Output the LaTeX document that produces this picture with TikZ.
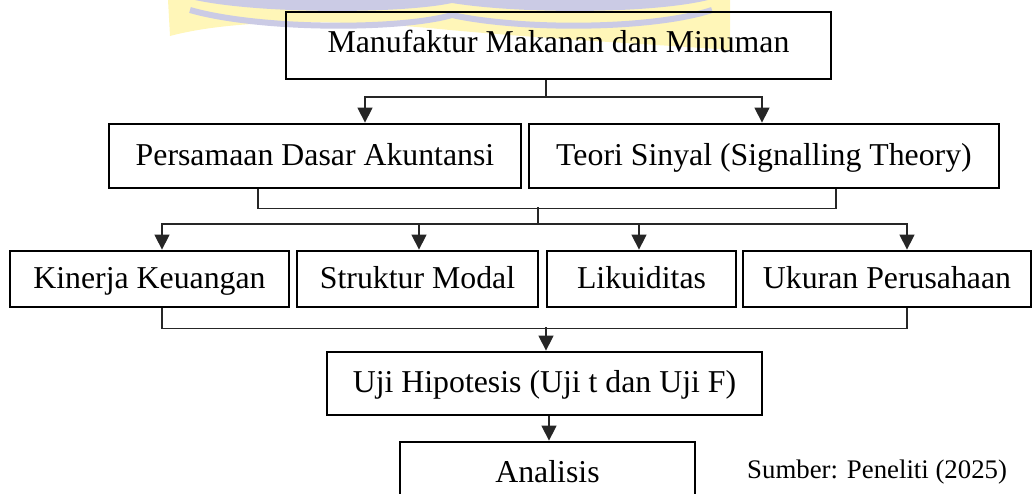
\documentclass[tikz,border=0pt]{standalone}
\usepackage{fontspec}
\setmainfont{Liberation Serif}
\usetikzlibrary{arrows.meta,calc}
\definecolor{wmyellow}{HTML}{FFF6B8}
\definecolor{wmlav}{HTML}{CBCBE5}
\tikzset{
  box/.style={draw=black, line width=2.8pt, inner sep=0pt, text height=22pt, text depth=4pt,
    font=\fontsize{31.8}{38}\selectfont},
  conn/.style={draw=black!85, line width=1.4pt},
  arr/.style={conn, -{Triangle[width=15pt,length=15pt]}},
}
\begin{document}
\begin{tikzpicture}[x=1pt,y=-1pt]
\useasboundingbox (0,0) rectangle (1034,493);
\clip (0,0) rectangle (1034,493);
% watermark (faint logo fragment)
\fill[wmyellow] (168,0) -- (170,36) .. controls (230,20) and (330,18) .. (450,30)
  .. controls (560,40) and (650,44) .. (730,50) -- (730,0) -- cycle;
\fill[wmlav] (195,0) .. controls (260,14) and (400,14) .. (452,3)
  .. controls (520,14) and (650,14) .. (708,0) -- cycle;
\draw[wmlav, line width=6pt] (190,10) .. controls (260,30) and (400,30) .. (452,15)
  .. controls (520,30) and (650,30) .. (712,10);
% boxes
\node[box, minimum width=545pt, minimum height=67pt, text height=33pt, text depth=20pt]
  (top) at (558.5,45.5) {Manufaktur Makanan dan Minuman};
\node[box, minimum width=412pt, minimum height=64pt] (pda) at (315,156) {Persamaan Dasar Akuntansi};
\node[box, minimum width=470pt, minimum height=64pt] (ts) at (764,156) {Teori Sinyal (Signalling Theory)};
\node[box, minimum width=279pt, minimum height=56pt] (kk) at (149.5,279) {Kinerja Keuangan};
\node[box, minimum width=241pt, minimum height=56pt] (sm) at (417.5,279) {Struktur Modal};
\node[box, minimum width=189pt, minimum height=56pt] (lk) at (641.5,279) {Likuiditas};
\node[box, minimum width=288pt, minimum height=56pt] (up) at (887,279) {Ukuran Perusahaan};
\node[box, minimum width=435pt, minimum height=63pt] (uji) at (544.5,383.5) {Uji Hipotesis (Uji t dan Uji F)};
\node[box, minimum width=295pt, minimum height=63pt] (an) at (547.5,473.5) {Analisis};
\node[anchor=base west, inner sep=0pt, font=\fontsize{26.8}{32}\selectfont] (src) at (747,478) {Sumber: Peneliti (2025)};
% connectors
\coordinate (j1) at (546,97);
\draw[conn] (top.south -| j1) -- (j1);
\draw[arr] (j1) -| ([xshift=50pt]pda.north);
\draw[arr] (j1) -| ([xshift=-2pt]ts.north);
\coordinate (j2) at (538,207);
\coordinate (j3) at (538,224);
\draw[conn] ([xshift=-57pt]pda.south) -- ++(0,19) -| ([xshift=72pt]ts.south);
\draw[conn] (j2) -- (j3);
\draw[arr] (j3) -| ([xshift=12.5pt]kk.north);
\draw[arr] (j3) -| ([xshift=1.5pt]sm.north);
\draw[arr] (j3) -| ([xshift=-2.5pt]lk.north);
\draw[arr] (j3) -| ([xshift=20pt]up.north);
\coordinate (j4) at (546,327);
\draw[conn] ([xshift=12.5pt]kk.south) -- ++(0,20) -| ([xshift=20pt]up.south);
\draw[arr] (j4) -- (j4 |- uji.north);
\draw[arr] ([xshift=4.5pt]uji.south) -- ([xshift=1.5pt]an.north);
\end{tikzpicture}
\end{document}
